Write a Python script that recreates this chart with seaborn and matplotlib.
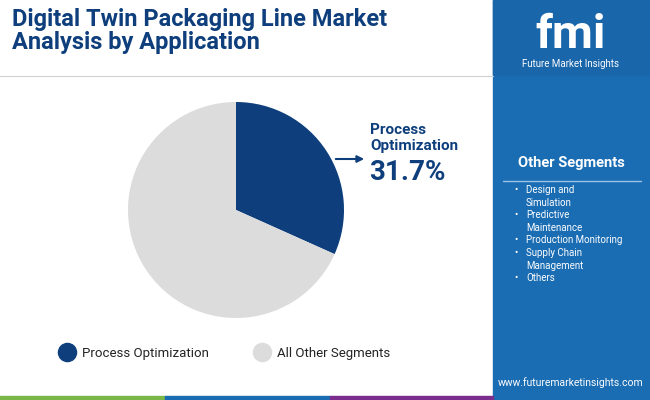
import matplotlib
matplotlib.use("Agg")
import matplotlib.pyplot as plt
import seaborn as sns
from matplotlib.patches import Rectangle

sns.set_style("white")
plt.rcParams["font.family"] = "Roboto"

labels = ["Process Optimization", "All Other Segments"]
shares = [31.7, 68.3]
colors = ["#0e3f7c", "#dcdcdc"]
other_segments = ["Design and\nSimulation", "Predictive\nMaintenance",
                  "Production Monitoring", "Supply Chain\nManagement", "Others"]

W, H = 650, 400
fig = plt.figure(figsize=(6.5, 4), dpi=100)
bg = fig.add_axes([0, 0, 1, 1])
bg.set_xlim(0, W)
bg.set_ylim(H, 0)
bg.axis("off")

# right panel
bg.add_patch(Rectangle((493, 0), W - 493, H, color="#1b6db3"))
bg.add_patch(Rectangle((493, 0), W - 493, 75, color="#1a66ab"))
bg.plot([0, 493], [76, 76], color="#d0d0d0", lw=0.8)
# bottom strip
for x0, x1, c in [(0, 165, "#7ab648"), (165, 330, "#1b6db3"), (330, 493, "#7b2d8e")]:
    bg.add_patch(Rectangle((x0, 396), x1 - x0, 4, color=c))

bg.text(12, 31, "Digital Twin Packaging Line Market\nAnalysis by Application",
        fontsize=17, fontweight="bold", color="#0e3f7c", va="center", linespacing=1.05)

# logo
bg.text(571, 35, "fmi", fontsize=34, fontweight="bold", color="white", ha="center", va="center")
bg.text(571, 64, "Future Market Insights", fontsize=7, color="white", ha="center", va="center")

bg.text(571, 163, "Other Segments", fontsize=10.5, fontweight="bold", color="white", ha="center", va="center")
bg.plot([503, 641], [181, 181], color="#9cc3e6", lw=1)
y = 185
for seg in other_segments:
    bg.text(514, y, "\u2022", fontsize=7, color="white", va="top")
    bg.text(526, y, seg, fontsize=7, color="white", va="top", linespacing=1.35)
    y += 25 if "\n" in seg else 13
bg.text(571, 383, "www.futuremarketinsights.com", fontsize=7.5, color="white", ha="center", va="center")

# pie
ax = fig.add_axes([(236 - 108) / W, 1 - (210 + 108) / H, 216 / W, 216 / H])
ax.pie(shares, colors=colors, startangle=90, counterclock=False, radius=1,
       wedgeprops=dict(linewidth=0))
ax.set_xlim(-1, 1)
ax.set_ylim(-1, 1)
ax.set_aspect("equal")

bg.annotate("", xy=(367, 159), xytext=(333, 159),
            arrowprops=dict(arrowstyle="-|>", color="#0e3f7c", lw=1.5))
bg.text(370, 138, "Process\nOptimization", fontsize=11, fontweight="bold",
        color="#0e3f7c", va="center", linespacing=1.1)
bg.text(369, 173, f"{shares[0]}%", fontsize=20, fontweight="bold", color="#0e3f7c", va="center")

# legend
for x, lab, c in [(67, labels[0], colors[0]), (262, labels[1], colors[1])]:
    bg.scatter([x], [352], s=170, color=c)
    bg.text(x + 15, 353, lab, fontsize=9.5, color="#222222", va="center")

fig.savefig("out.png", dpi=100)
